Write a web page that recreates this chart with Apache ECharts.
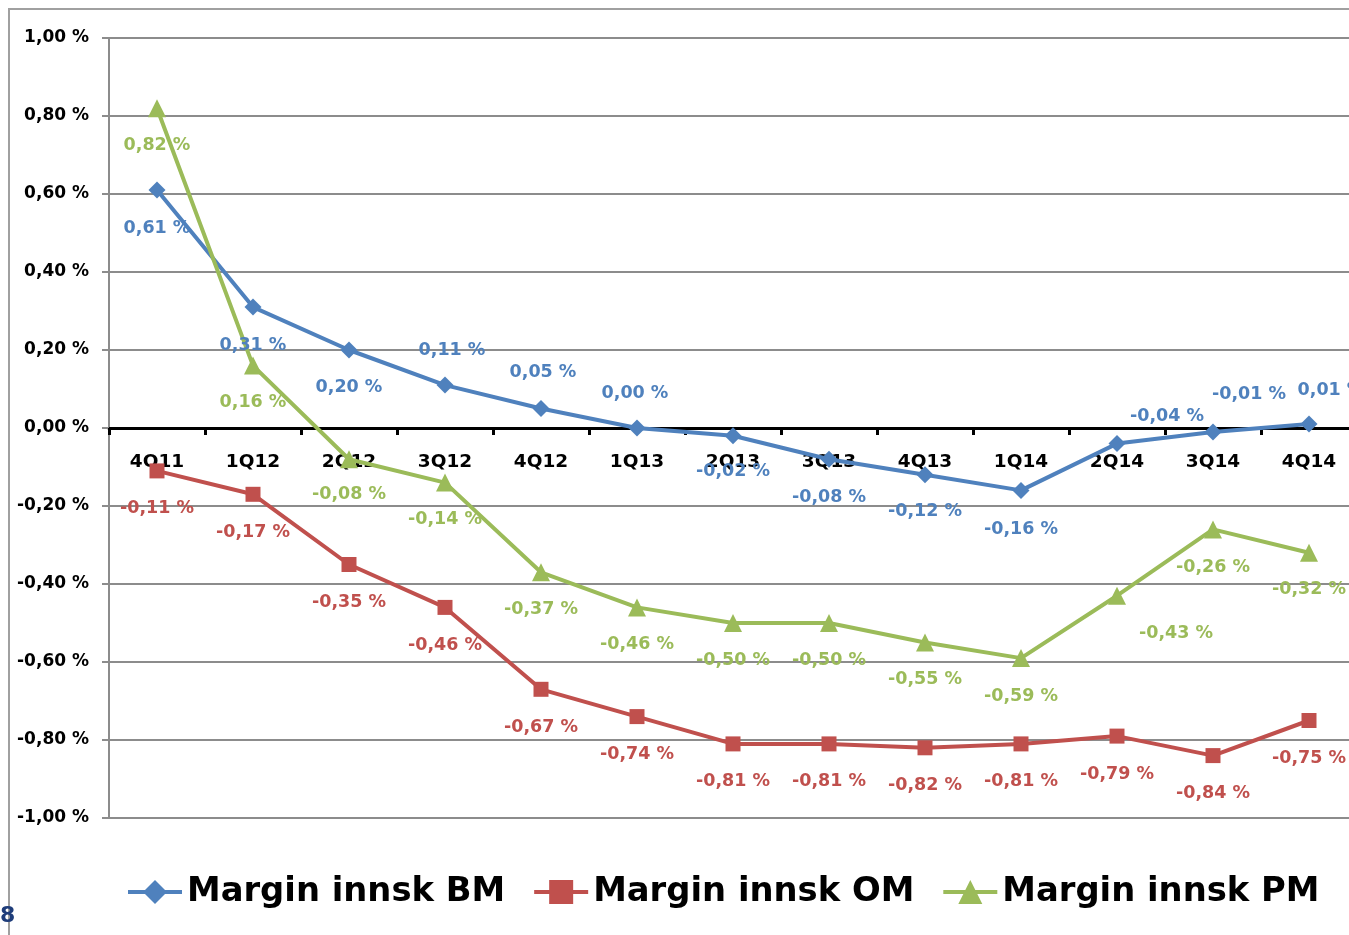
<!DOCTYPE html>
<html><head><meta charset="utf-8">
<script src="https://cdn.jsdelivr.net/npm/echarts@6/dist/echarts.min.js"></script>
<style>html,body{margin:0;padding:0;background:#fff}#c{width:1349px;height:935px}</style>
</head><body><div id="c"></div>
<script>
const categories = ['4Q11','1Q12','2Q12','3Q12','4Q12','1Q13','2Q13','3Q13','4Q13','1Q14','2Q14','3Q14','4Q14'];
const bmValues = [0.61, 0.31, 0.20, 0.11, 0.05, 0.00, -0.02, -0.08, -0.12, -0.16, -0.04, -0.01, 0.01];
const omValues = [-0.11, -0.17, -0.35, -0.46, -0.67, -0.74, -0.81, -0.81, -0.82, -0.81, -0.79, -0.84, -0.75];
const pmValues = [0.82, 0.16, -0.08, -0.14, -0.37, -0.46, -0.50, -0.50, -0.55, -0.59, -0.43, -0.26, -0.32];
const seriesNames = ['Margin innsk BM', 'Margin innsk OM', 'Margin innsk PM'];

// label offsets (pixels) relative to each point
const bmOffsets = [[0,38],[0,38],[0,37],[7,-35],[2,-36],[-2,-35],[0,36],[0,38],[0,37],[0,39],[50,-27],[36,-37],[22,-34]];
const omOffsets = categories.map(() => [0,38]);
const pmOffsets = [[0,37],[0,37],[0,35],[0,37],[0,37],[0,37],[0,37],[0,37],[0,37],[0,38],[59,38],[0,38],[0,37]];

const fmt = v => v.toFixed(2).replace('.', ',') + ' %';
const FONT = 'DejaVu Sans';
const colors = ['#4F81BD', '#C0504D', '#9BBB59'];

function mk(vals, offs) {
  return vals.map((v, i) => ({ value: v, label: { offset: offs[i] } }));
}

function series(name, vals, offs, color, symbol, size) {
  return {
    name, type: 'line', data: mk(vals, offs),
    symbol, symbolSize: size,
    lineStyle: { color, width: 4 },
    itemStyle: { color },
    label: {
      show: true, position: 'inside', color,
      fontFamily: FONT, fontWeight: 'bold', fontSize: 17.5,
      formatter: p => fmt(p.value)
    },
    emphasis: { disabled: true },
    animation: false, z: 3
  };
}

const chart = echarts.init(document.getElementById('c'), null, { renderer: 'canvas' });
chart.setOption({
  animation: false,
  color: colors,
  grid: { left: 109, top: 38, width: 1248, height: 780, containLabel: false, outerBoundsMode: 'none' },
  xAxis: {
    type: 'category', data: categories, boundaryGap: true,
    position: 'bottom', offset: -390,
    axisLine: { onZero: false, lineStyle: { color: '#000', width: 3 } },
    axisTick: { show: true, length: 7, lineStyle: { color: '#000', width: 3 } },
    axisLabel: { margin: 25, color: '#000', fontFamily: FONT, fontWeight: 'bold', fontSize: 18.5 },
    splitLine: { show: false }
  },
  yAxis: {
    type: 'value', min: -1, max: 1, interval: 0.2,
    axisLine: { show: true, onZero: false, lineStyle: { color: '#8c8c8c', width: 2 } },
    axisTick: { show: true, length: 7, lineStyle: { color: '#8c8c8c', width: 2 } },
    axisLabel: { margin: 20, color: '#000', fontFamily: FONT, fontWeight: 'bold', fontSize: 17, formatter: v => fmt(v) },
    splitLine: { show: true, lineStyle: { color: '#8c8c8c', width: 2 } }
  },
  legend: {
    left: 126, top: 875, padding: 0, itemWidth: 54, itemHeight: 30, itemGap: 27,
    data: seriesNames,
    lineStyle: { width: 4 },
    textStyle: { color: '#000', fontFamily: FONT, fontWeight: 'bold', fontSize: 33.8 }
  },
  graphic: [
    { type: 'rect', shape: { x: 9, y: 9, width: 1500, height: 1000 }, style: { fill: null, stroke: '#a0a0a0', lineWidth: 2 }, z: -1, silent: true },
    { type: 'text', left: 0, top: 905, style: { text: '8', fill: '#1F3D7A', font: 'bold 22px "DejaVu Sans"' } }
  ],
  series: [
    series(seriesNames[0], bmValues, bmOffsets, colors[0], 'diamond', 17),
    series(seriesNames[1], omValues, omOffsets, colors[1], 'rect', 15),
    series(seriesNames[2], pmValues, pmOffsets, colors[2], 'triangle', 18)
  ]
});
</script>
</body></html>
